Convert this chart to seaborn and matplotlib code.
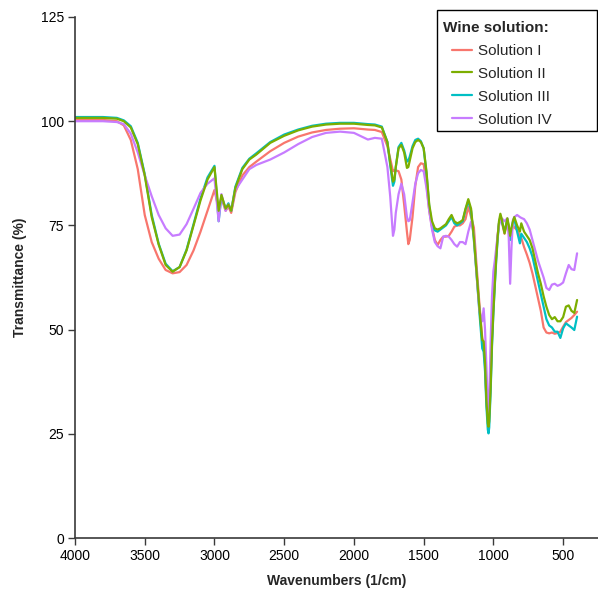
import matplotlib
matplotlib.use("Agg")
import matplotlib.pyplot as plt
from matplotlib.patches import Rectangle
from matplotlib.lines import Line2D
from matplotlib.legend_handler import HandlerLine2D
import numpy as np
import pandas as pd
import seaborn as sns

wavenumbers = [4000, 3800, 3700, 3650, 3600, 3550, 3500, 3450, 3400, 3350, 3300, 3250, 3200, 3150,
               3100, 3050, 3000, 2970, 2950, 2920, 2900, 2880, 2850, 2800, 2750, 2700, 2600, 2500,
               2400, 2300, 2200, 2100, 2000, 1900, 1850, 1800, 1760, 1740, 1720, 1710, 1700, 1680,
               1660, 1640, 1620, 1610, 1600, 1580, 1560, 1540, 1520, 1500, 1480, 1460, 1440, 1420,
               1400, 1380, 1360, 1340, 1320, 1300, 1280, 1260, 1240, 1220, 1200, 1180, 1160, 1140,
               1120, 1100, 1080, 1070, 1060, 1050, 1040, 1035, 1030, 1020, 1010, 1000, 990, 980,
               970, 960, 950, 940, 920, 900, 890, 880, 870, 860, 850, 830, 810, 800, 780, 760, 740,
               720, 700, 680, 660, 640, 620, 600, 580, 560, 540, 520, 500, 480, 460, 440, 420, 400]

solution_1 = [100.3, 100.3, 100.0, 99.0, 95.5, 88.5, 77.5, 71.0, 67.0, 64.3, 63.5, 63.8, 65.5, 69.0,
              73.5, 78.5, 83.5, 79.0, 81.5, 78.5, 79.5, 78.0, 83.0, 87.0, 89.0, 90.3, 92.8, 94.8,
              96.3, 97.3, 97.9, 98.2, 98.3, 98.0, 97.9, 97.4, 94.0, 91.0, 88.0, 88.2, 88.2, 88.0,
              86.0, 80.0, 73.5, 70.5, 71.5, 77.0, 84.5, 89.0, 89.9, 89.7, 85.0, 78.5, 74.5, 71.5,
              70.3, 71.5, 72.3, 72.3, 72.5, 73.5, 74.7, 75.0, 75.0, 75.5, 76.5, 79.5, 77.0, 74.5,
              65.0, 56.0, 48.0, 46.5, 41.5, 33.0, 28.5, 27.8, 29.5, 38.0, 48.5, 56.0, 62.5, 68.0,
              72.5, 75.5, 77.0, 75.8, 73.0, 76.0, 74.5, 72.0, 73.5, 75.0, 74.5, 73.9, 72.5, 72.0,
              69.8, 68.0, 66.0, 63.5, 60.5, 57.5, 54.5, 50.5, 49.3, 49.1, 49.3, 49.0, 49.2, 49.5,
              50.7, 51.8, 52.3, 52.8, 53.5, 54.3]

solution_2 = [100.8, 100.8, 100.6, 100.0, 98.5, 94.5, 87.0, 77.0, 70.4, 65.5, 63.9, 65.0, 69.0, 75.0,
              81.0, 86.0, 89.0, 78.5, 82.3, 79.0, 80.0, 78.5, 84.0, 88.5, 90.8, 92.0, 94.8, 96.5,
              97.8, 98.7, 99.2, 99.4, 99.4, 99.1, 99.0, 98.5, 95.0, 90.0, 85.5, 86.0, 89.0, 93.5,
              94.3, 92.5, 88.8, 89.0, 90.5, 93.5, 95.0, 95.5, 95.0, 93.5, 88.0, 80.0, 76.0, 74.3,
              74.0, 74.3, 74.8, 75.3, 76.5, 77.5, 76.0, 75.5, 75.8, 76.3, 79.0, 81.3, 79.0, 72.0,
              63.5, 55.0, 47.5, 47.2, 42.0, 33.0, 27.5, 26.7, 28.0, 36.0, 47.0, 54.5, 61.0, 67.0,
              72.0, 76.0, 77.8, 76.5, 73.1, 76.7, 75.0, 72.5, 74.5, 76.0, 77.0, 75.0, 73.5, 75.5,
              73.5, 72.5, 71.5, 69.5, 66.5, 63.5, 61.0, 58.0, 55.5, 53.5, 52.5, 53.0, 52.0, 52.0,
              53.0, 55.5, 55.8, 54.5, 54.0, 57.1]

solution_3 = [101.0, 101.0, 100.8, 100.2, 98.8, 94.8, 87.3, 77.5, 70.6, 65.8, 64.0, 65.0, 69.2, 75.3,
              81.5, 86.5, 89.3, 76.0, 82.0, 79.0, 80.3, 78.5, 84.3, 88.8, 91.0, 92.3, 95.0, 96.8,
              98.0, 98.9, 99.4, 99.6, 99.6, 99.3, 99.2, 98.7, 95.0, 89.5, 84.5, 85.5, 89.0, 93.8,
              94.8, 93.0, 90.3, 90.5, 91.5, 94.0, 95.5, 95.8, 95.2, 93.5, 87.5, 79.5, 75.0, 73.8,
              73.5, 74.0, 74.5, 75.0, 76.0, 77.0, 75.5, 75.0, 75.5, 76.0, 78.8, 80.8, 78.5, 71.5,
              63.0, 54.0, 45.5, 44.7, 40.0, 31.5, 26.0, 25.1, 26.5, 35.0, 46.0, 54.0, 60.5, 66.5,
              71.5, 75.5, 77.0, 76.0, 73.5, 76.5, 74.5, 71.5, 74.0, 75.8, 76.5, 73.5, 70.7, 73.0,
              72.0, 71.0, 69.5, 67.5, 64.5, 61.5, 58.5, 55.5, 52.5, 51.0, 50.5, 49.5, 49.5, 48.0,
              50.3, 51.5, 51.0, 50.5, 49.9, 53.1]

solution_4 = [100.0, 100.0, 99.8, 99.3, 97.0, 92.5, 87.0, 82.0, 77.5, 74.3, 72.5, 72.8, 75.3, 79.0,
              82.8, 85.0, 86.3, 76.0, 82.5, 78.5, 80.0, 78.5, 83.5, 86.0, 88.5, 89.5, 90.8, 92.5,
              94.5, 96.2, 97.2, 97.5, 97.2, 95.6, 96.0, 95.8, 89.0, 82.0, 72.5, 74.0, 78.0, 82.5,
              85.0, 82.5, 77.0, 76.0, 76.2, 80.5, 85.0, 87.5, 88.3, 88.0, 84.0, 78.5, 74.0, 71.0,
              70.0, 69.5, 72.3, 72.5, 72.3, 71.5, 70.5, 69.9, 71.0, 71.0, 70.5, 73.5, 75.9, 73.0,
              63.0, 54.5, 52.0, 55.1, 50.0, 41.0, 31.5, 29.9, 33.0, 47.0, 58.0, 64.0, 66.5, 69.5,
              72.5, 75.0, 76.3, 76.7, 76.0, 76.7, 72.0, 61.0, 70.0, 76.3, 77.0, 77.5, 77.0, 76.8,
              76.5, 75.5, 74.0, 71.5, 69.0, 66.5, 64.5, 62.5, 60.0, 59.5, 60.8, 61.0, 60.5, 60.8,
              61.3, 63.5, 65.5, 64.5, 64.3, 68.3]

labels = ["Solution I", "Solution II", "Solution III", "Solution IV"]
colors = ["#F8766D", "#7CAE00", "#00BFC4", "#C77CFF"]

frames = []
for lab, vals in zip(labels, [solution_1, solution_2, solution_3, solution_4]):
    frames.append(pd.DataFrame({"Wavenumber": wavenumbers, "Transmittance": vals, "Solution": lab}))
df = pd.concat(frames, ignore_index=True)

sns.set_style("ticks")
plt.rcParams["font.family"] = ["Liberation Sans", "DejaVu Sans"]

W, H = 598, 595
fig = plt.figure(figsize=(W / 100, H / 100), dpi=100)
ax = fig.add_axes([75 / W, 57 / H, 523 / W, 521 / H])

sns.lineplot(data=df, x="Wavenumber", y="Transmittance", hue="Solution", hue_order=labels,
             palette=colors, linewidth=1.6, estimator=None, sort=False, ax=ax)

zorders = {0: 2.1, 1: 2.4, 2: 2.2, 3: 2.3}
for i, ln in enumerate(ax.lines[:4]):
    ln.set_zorder(zorders[i])

ax.set_xlim(4000, 250)
ax.set_ylim(0, 125)
ax.set_xticks([4000, 3500, 3000, 2500, 2000, 1500, 1000, 500])
ax.set_yticks([0, 25, 50, 75, 100, 125])

spine_col = "#3a3a3a"
for side in ["top", "right"]:
    ax.spines[side].set_visible(False)
for side in ["left", "bottom"]:
    ax.spines[side].set_color(spine_col)
    ax.spines[side].set_linewidth(1.2)
ax.tick_params(axis="both", direction="out", length=5, width=1.0, color=spine_col,
               labelsize=10, labelcolor="black", pad=3)

ax.set_xlabel("Wavenumbers (1/cm)", fontsize=10, fontweight="bold", labelpad=8)
ax.set_ylabel("Transmittance (%)", fontsize=10, fontweight="bold", labelpad=10)

# legend frame drawn as a box spanning x 437..597, y 10..131 (pixels from top-left)
box = Rectangle((437 / W, 1 - 131 / H), 160 / W, 121 / H, transform=fig.transFigure,
                facecolor="white", edgecolor="black", linewidth=1.0, zorder=4.9)
ax.add_artist(box)
box.set_clip_on(False)

handles, _ = ax.get_legend_handles_labels()
leg = ax.legend(handles=handles, labels=labels, title="Wine solution:", loc="upper left",
                bbox_to_anchor=(437 / W, 1 - 15 / H), bbox_transform=fig.transFigure,
                frameon=False, fontsize=11,
                title_fontproperties={"weight": "bold", "size": 11},
                handlelength=1.9, handletextpad=0.4, labelspacing=0.58, borderaxespad=0,
                alignment="left", borderpad=0.4,
                handler_map={Line2D: HandlerLine2D(xpad=0.55)})
for h in leg.get_lines():
    h.set_linewidth(1.6)

fig.savefig("out.png", dpi=100)
